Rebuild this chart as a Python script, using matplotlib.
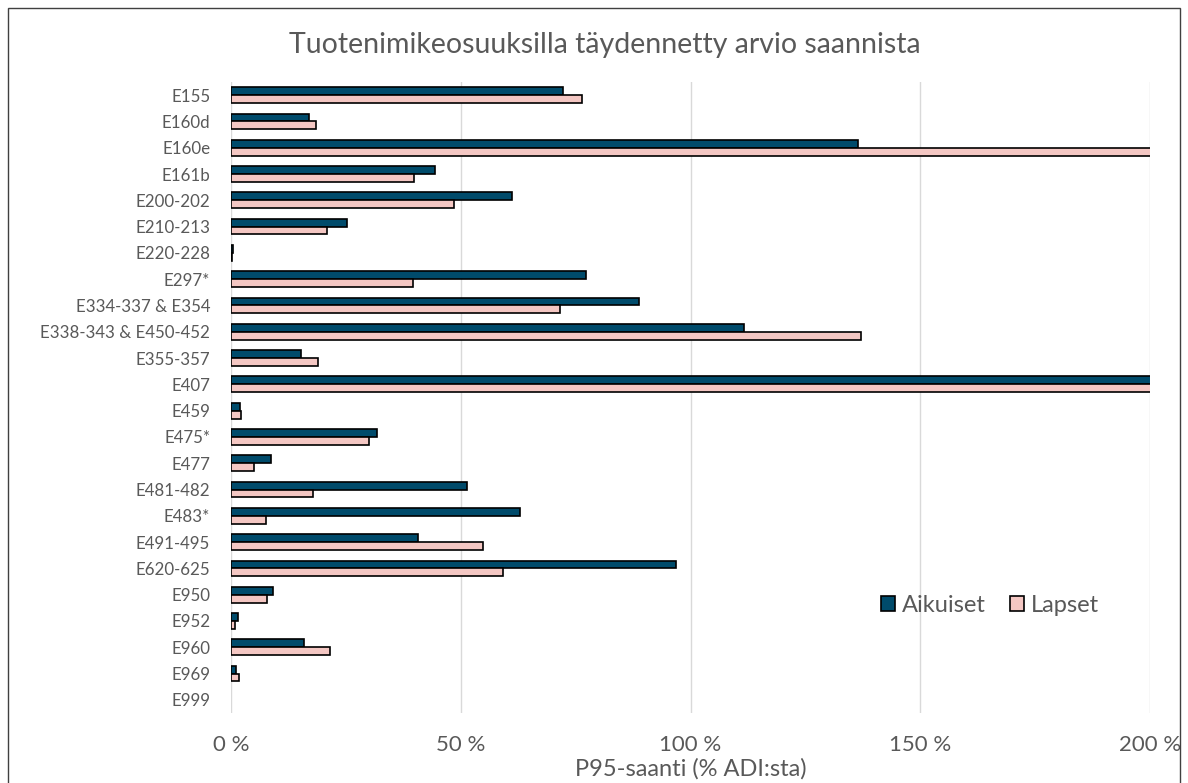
import numpy as np
import matplotlib.pyplot as plt
from matplotlib.patches import Rectangle

plt.rcParams['font.family'] = ['Lato', 'DejaVu Sans']

# Data (% of ADI, P95 intake)
categories = ['E155', 'E160d', 'E160e', 'E161b', 'E200-202', 'E210-213',
              'E220-228', 'E297*', 'E334-337 & E354', 'E338-343 & E450-452',
              'E355-357', 'E407', 'E459', 'E475*', 'E477', 'E481-482',
              'E483*', 'E491-495', 'E620-625', 'E950', 'E952', 'E960',
              'E969', 'E999']
aikuiset = [72.3, 17.0, 136.4, 44.3, 61.1, 25.3, 0.5, 77.2, 88.7, 111.6,
            15.3, 250.0, 2.0, 31.7, 8.7, 51.4, 62.8, 40.6, 96.8, 9.1,
            1.6, 15.9, 1.0, 0.0]
lapset = [76.3, 18.5, 240.0, 39.8, 48.5, 20.9, 0.3, 39.7, 71.5, 137.2,
          19.0, 250.0, 2.2, 30.0, 5.1, 17.9, 7.7, 54.9, 59.2, 7.8,
          0.9, 21.6, 1.7, 0.0]
xticks = [0, 50, 100, 150, 200]
xticklabels = ['0 %', '50 %', '100 %', '150 %', '200 %']

dark = '#004b6b'
pink = '#f4c7c3'
grey_txt = '#595959'

fig = plt.figure(figsize=(11.88, 7.83), dpi=100)
ax = fig.add_axes([231 / 1188, 1 - 713 / 783, 919 / 1188, 631 / 783])

y = np.arange(len(categories))
h = 0.3
# no outline for empty bars (E999)
lw_a = [0 if v == 0 else 1.2 for v in aikuiset]
lw_l = [0 if v == 0 else 1.2 for v in lapset]
ax.barh(y - h / 2, aikuiset, height=h, color=dark, edgecolor='black',
        linewidth=lw_a, label='Aikuiset', zorder=3)
ax.barh(y + h / 2, lapset, height=h, color=pink, edgecolor='black',
        linewidth=lw_l, label='Lapset', zorder=3)

ax.set_xlim(0, 200)
ax.set_ylim(len(categories) - 0.5, -0.5)
ax.set_yticks(y)
ax.set_yticklabels(categories, fontsize=12.2, color=grey_txt)
ax.set_xticks(xticks)
ax.set_xticklabels(xticklabels, fontsize=16, color=grey_txt)
ax.tick_params(axis='both', length=0)
ax.tick_params(axis='x', pad=16)
ax.tick_params(axis='y', pad=15)
ax.xaxis.grid(True, color='#d9d9d9', linewidth=1, zorder=0)
for s in ax.spines.values():
    s.set_visible(False)
ax.set_xlabel('P95-saanti (% ADI:sta)', fontsize=17, color=grey_txt,
              labelpad=2)

fig.text(605 / 1188, 1 - 45 / 783, 'Tuotenimikeosuuksilla täydennetty arvio saannista',
         ha='center', va='center', fontsize=20.5, color=grey_txt)

leg = fig.legend(loc='center', bbox_to_anchor=(990 / 1188, 1 - 605 / 783),
                 ncol=2, frameon=False, fontsize=17, handlelength=0.6,
                 handleheight=0.6, handletextpad=0.3, columnspacing=1.0)
for t in leg.get_texts():
    t.set_color(grey_txt)
for hnd in leg.legend_handles:
    hnd.set_linewidth(1.2)

# chart border
fig.patches.append(Rectangle((8 / 1188, -0.01), 1172 / 1188, 1 - 8 / 783 + 0.01,
                             transform=fig.transFigure, fill=False,
                             edgecolor='#404040', linewidth=1))

fig.savefig('out.png', dpi=100)
